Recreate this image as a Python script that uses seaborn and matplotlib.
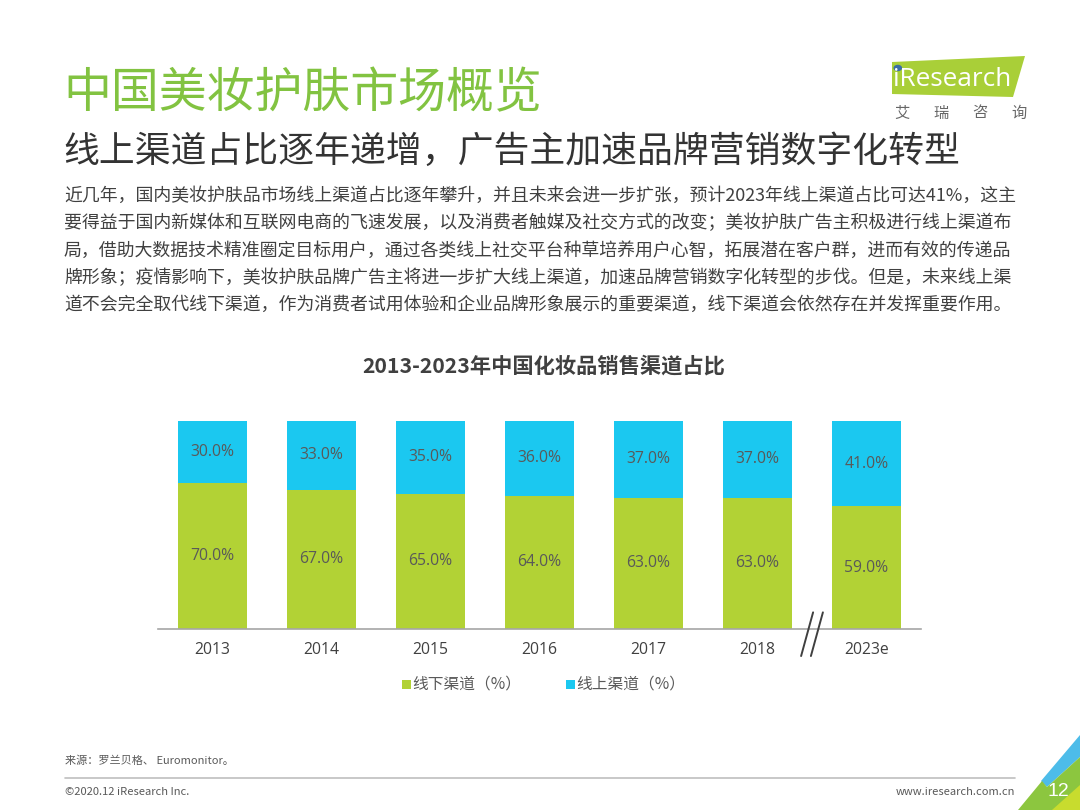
import matplotlib
matplotlib.use("Agg")
import matplotlib.pyplot as plt
import seaborn as sns
import pandas as pd
from matplotlib.patches import Polygon, Rectangle, Circle
from matplotlib.lines import Line2D

sns.set_theme(style="white")
plt.rcParams['font.family'] = ['Noto Sans CJK SC', 'DejaVu Sans']

# ---------------- data ----------------
years = ["2013", "2014", "2015", "2016", "2017", "2018", "2023e"]
offline = [70.0, 67.0, 65.0, 64.0, 63.0, 63.0, 59.0]
online = [30.0, 33.0, 35.0, 36.0, 37.0, 37.0, 41.0]
series_names = ["线下渠道（%）", "线上渠道（%）"]

title = "中国美妆护肤市场概览"
subtitle = "线上渠道占比逐年递增，广告主加速品牌营销数字化转型"
paragraph = [
    "近几年，国内美妆护肤品市场线上渠道占比逐年攀升，并且未来会进一步扩张，预计2023年线上渠道占比可达41%，这主",
    "要得益于国内新媒体和互联网电商的飞速发展，以及消费者触媒及社交方式的改变；美妆护肤广告主积极进行线上渠道布",
    "局，借助大数据技术精准圈定目标用户，通过各类线上社交平台种草培养用户心智，拓展潜在客户群，进而有效的传递品",
    "牌形象；疫情影响下，美妆护肤品牌广告主将进一步扩大线上渠道，加速品牌营销数字化转型的步伐。但是，未来线上渠",
    "道不会完全取代线下渠道，作为消费者试用体验和企业品牌形象展示的重要渠道，线下渠道会依然存在并发挥重要作用。",
]
chart_title = "2013-2023年中国化妆品销售渠道占比"
source = "来源：罗兰贝格、 Euromonitor。"
copyright_txt = "©2020.12 iResearch Inc."
website = "www.iresearch.com.cn"
page_no = "12"
logo_cn = ["艾", "瑞", "咨", "询"]

GREEN = "#B2D235"
BLUE = "#1BC8F0"
TITLE_GREEN = "#82C341"

W, H = 1080, 810
fig = plt.figure(figsize=(10.8, 8.1), dpi=100)
fig.patch.set_facecolor("white")

def fx(x):
    return x / W

def fy(y):
    return 1 - y / H

# ---------------- header texts ----------------
fig.text(fx(63), fy(93), title, fontsize=34.5, color=TITLE_GREEN, va="center", ha="left")
fig.text(fx(63), fy(152), subtitle, fontsize=25.8, color="#333333", va="center", ha="left")
for i, line in enumerate(paragraph):
    fig.text(fx(64), fy(196 + i * 27.3), line, fontsize=12.9, color="#404040",
             va="center", ha="left")

fig.text(fx(544), fy(366), chart_title, fontsize=15.3, fontweight="bold",
         color="#404040", va="center", ha="center")

# ---------------- logo ----------------
fig.patches.append(Polygon([(fx(892), fy(62)), (fx(1025), fy(56)), (fx(1013), fy(97)), (fx(892), fy(94))],
                           closed=True, transform=fig.transFigure, facecolor="#A9CF38", edgecolor="none"))
fig.text(fx(893), fy(80), "iResearch", fontsize=18.8, color="white", va="center", ha="left",
         family="Open Sans")
fig.patches.append(Circle((fx(897.8), fy(68)), 0.004, transform=fig.transFigure,
                          facecolor="#3A6EA5", edgecolor="none"))
for k, ch in enumerate(logo_cn):
    fig.text(fx(902 + k * 39), fy(113), ch, fontsize=11, color="#666666", va="center", ha="center")

# ---------------- chart ----------------
ax = fig.add_axes([fx(158), fy(629), fx(921) - fx(158), (629 - 421) / H])
df = pd.DataFrame({"year": years, "offline": offline, "online": online})
df["total"] = df["offline"] + df["online"]

sns.barplot(data=df, x="year", y="total", color=BLUE, width=0.63, ax=ax,
            saturation=1, edgecolor="none")
sns.barplot(data=df, x="year", y="offline", color=GREEN, width=0.63, ax=ax,
            saturation=1, edgecolor="none")

for i in range(len(years)):
    ax.text(i, offline[i] / 2, f"{offline[i]:.1f}%", ha="center", va="center",
            fontsize=11.3, color="#595959", family="Open Sans")
    ax.text(i, offline[i] + online[i] / 2, f"{online[i]:.1f}%", ha="center", va="center",
            fontsize=11.3, color="#595959", family="Open Sans")

ax.set_xlim(-0.5, len(years) - 0.5)
ax.set_ylim(0, 100)
ax.set_xlabel("")
ax.set_ylabel("")
ax.set_yticks([])
ax.tick_params(axis="x", length=0, pad=9)
for lab in ax.get_xticklabels():
    lab.set_fontsize(11.3)
    lab.set_color("#404040")
    lab.set_family("Open Sans")
for s in ["top", "right", "left"]:
    ax.spines[s].set_visible(False)
ax.spines["bottom"].set_color("#A6A6A6")
ax.spines["bottom"].set_linewidth(1.2)
ax.set_facecolor("none")

# break marks between 2018 and 2023e
for dx in (-0.045, 0.045):
    ax.add_line(Line2D([5.5 + dx - 0.055, 5.5 + dx + 0.055], [-13, 8], color="#404040",
                       linewidth=1.4, clip_on=False, zorder=3))

# ---------------- legend ----------------
fig.patches.append(Rectangle((fx(402), fy(689)), fx(9), 9 / H, transform=fig.transFigure,
                             facecolor=GREEN, edgecolor="none"))
fig.text(fx(412), fy(684), series_names[0], fontsize=11.3, color="#595959", va="center", ha="left")
fig.patches.append(Rectangle((fx(566), fy(689)), fx(9), 9 / H, transform=fig.transFigure,
                             facecolor=BLUE, edgecolor="none"))
fig.text(fx(576), fy(684), series_names[1], fontsize=11.3, color="#595959", va="center", ha="left")

# ---------------- footer ----------------
fig.text(fx(65), fy(761), source, fontsize=8, color="#595959", va="center", ha="left")
fig.add_artist(Line2D([fx(65), fx(1015)], [fy(778), fy(778)], transform=fig.transFigure,
                      color="#BFBFBF", linewidth=1.2))
fig.text(fx(65), fy(792), copyright_txt, fontsize=8, color="#595959", va="center", ha="left")
fig.text(fx(1015), fy(792), website, fontsize=8, color="#595959", va="center", ha="right")

# corner decoration
fig.patches.append(Polygon([(fx(1080), fy(735)), (fx(1041), fy(781)), (fx(1047), fy(787)), (fx(1080), fy(757))],
                           closed=True, transform=fig.transFigure, facecolor="#4DBCE9", edgecolor="none"))
fig.patches.append(Polygon([(fx(1080), fy(757)), (fx(1047), fy(787)), (fx(1042), fy(781)), (fx(1018), fy(810)), (fx(1080), fy(810))],
                           closed=True, transform=fig.transFigure, facecolor="#8CC63F", edgecolor="none"))
fig.patches.append(Polygon([(fx(1080), fy(785)), (fx(1052), fy(810)), (fx(1080), fy(810))],
                           closed=True, transform=fig.transFigure, facecolor="#C8DC2E", edgecolor="none"))
fig.text(fx(1058), fy(792), page_no, fontsize=14, color="white", va="center", ha="center",
         family="Liberation Sans")

fig.savefig("out.png", dpi=100, facecolor="white")
